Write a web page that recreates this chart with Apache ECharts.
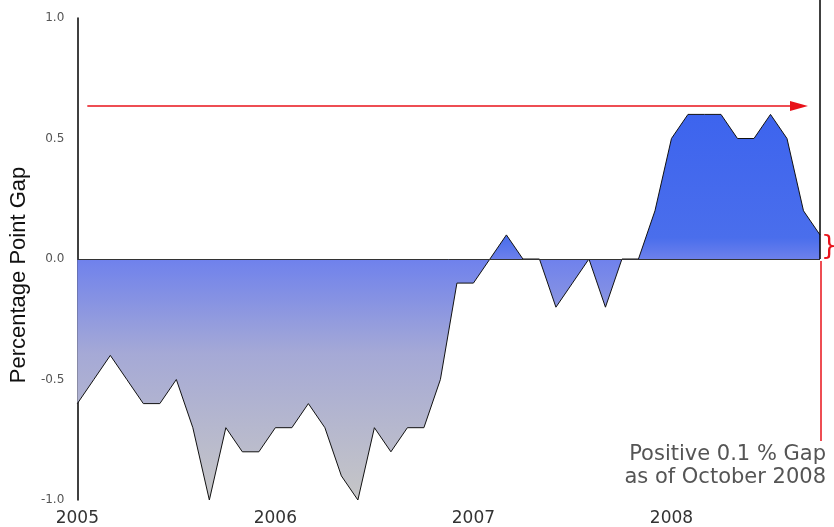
<!DOCTYPE html>
<html>
<head>
<meta charset="utf-8">
<title>Percentage Point Gap</title>
<script src="https://cdn.jsdelivr.net/npm/echarts@6/dist/echarts.min.js"></script>
<style>
  html, body { margin: 0; padding: 0; background: #fff; }
  #chart { width: 834px; height: 527px; }
</style>
</head>
<body>
<div id="chart"></div>
<script>
// monthly, Jan 2005 .. Oct 2008
const years = ['2005', '2006', '2007', '2008']
const monthNames = ['Jan', 'Feb', 'Mar', 'Apr', 'May', 'Jun', 'Jul', 'Aug', 'Sep', 'Oct', 'Nov', 'Dec']
const gap = [
  -0.6, -0.5, -0.4, -0.5, -0.6, -0.6, -0.5, -0.7, -1.0, -0.7, -0.8, -0.8,
  -0.7, -0.7, -0.6, -0.7, -0.9, -1.0, -0.7, -0.8, -0.7, -0.7, -0.5, -0.1,
  -0.1, 0.0, 0.1, 0.0, 0.0, -0.2, -0.1, 0.0, -0.2, 0.0, 0.0, 0.2,
  0.5, 0.6, 0.6, 0.6, 0.5, 0.5, 0.6, 0.5, 0.2, 0.1
]
const yTicks = [-1.0, -0.5, 0.0, 0.5, 1.0]
const arrowLevel = 0.635
const noteLines = ['Positive 0.1 % Gap', 'as of October 2008']

const months = []
years.forEach(y => monthNames.forEach(m => months.push(m + ' ' + y)))
months.length = gap.length

const chart = echarts.init(document.getElementById('chart'))

chart.setOption({
  backgroundColor: '#ffffff',
  animation: false,
  grid: {
    left: 77,
    right: 14,
    top: 18,
    bottom: 27,
  },
  xAxis: {
    type: 'category',
    boundaryGap: false,
    data: months,
    axisLine: { show: false },
    axisTick: { show: false },
    splitLine: { show: false },
    axisLabel: {
      interval: 11,
      margin: 10,
      color: '#333',
      fontFamily: 'DejaVu Sans',
      fontSize: 17,
      formatter: v => v.split(' ')[1],
    },
  },
  yAxis: {
    type: 'value',
    min: yTicks[0],
    max: yTicks[yTicks.length - 1],
    interval: 0.5,
    name: 'Percentage Point Gap',
    nameLocation: 'middle',
    nameGap: 46,
    nameTextStyle: {
      color: '#111',
      fontFamily: 'Liberation Sans, sans-serif',
      fontSize: 22,
      padding: [0, 0, 0, -32],
    },
    axisLine: { show: true, lineStyle: { color: '#000', width: 1.5 } },
    axisTick: { show: false },
    splitLine: { show: false },
    axisLabel: {
      margin: 13,
      color: '#555',
      fontFamily: 'DejaVu Sans',
      fontSize: 12,
      formatter: v => v.toFixed(1),
    },
  },
  series: [
    {
      type: 'line',
      data: gap,
      symbol: 'none',
      lineStyle: { color: '#111', width: 1 },
      areaStyle: {
        opacity: 1,
        color: new echarts.graphic.LinearGradient(0, 0, 0, 1, [
          { offset: 0, color: '#3d64ee' },
          { offset: 0.32, color: '#4a6eec' },
          { offset: 0.38, color: '#7082ec' },
          { offset: 0.62, color: '#a5a9d6' },
          { offset: 1, color: '#c6c6c6' },
        ]),
      },
      markLine: {
        silent: true,
        symbol: 'none',
        label: { show: false },
        lineStyle: { color: '#333', width: 1, type: 'solid' },
        data: [{ yAxis: 0 }],
      },
      z: 3,
    },
  ],
})

// annotations placed from the axis scales
function drawNotes() {
  const last = gap.length - 1
  const [xEnd, yZero] = chart.convertToPixel({ seriesIndex: 0 }, [last, 0])
  const [, yLast] = chart.convertToPixel({ seriesIndex: 0 }, [last, gap[last]])
  const [xStart, yArrow] = chart.convertToPixel({ seriesIndex: 0 }, [0, arrowLevel])
  const red = '#e8121a'
  const note = (text, y) => ({
    type: 'text',
    x: 826,
    y: y,
    style: {
      text: text,
      fill: '#555',
      font: '21px DejaVu Sans',
      align: 'right',
      verticalAlign: 'middle',
      textAlign: 'right',
      textVerticalAlign: 'middle',
    },
    z: 10,
  })

  chart.setOption({
    graphic: [
      {
        type: 'line',
        shape: { x1: xEnd, y1: 0, x2: xEnd, y2: yZero },
        style: { stroke: '#000', lineWidth: 1.5 },
        z: 10,
      },
      {
        type: 'line',
        shape: { x1: xEnd + 1, y1: yZero + 2, x2: xEnd + 1, y2: 441 },
        style: { stroke: red, lineWidth: 1.5 },
        z: 10,
      },
      {
        type: 'line',
        shape: { x1: xStart + 10, y1: yArrow, x2: xEnd - 20, y2: yArrow },
        style: { stroke: red, lineWidth: 1.5 },
        z: 10,
      },
      {
        type: 'polygon',
        shape: {
          points: [
            [xEnd - 30, yArrow - 5],
            [xEnd - 12, yArrow],
            [xEnd - 30, yArrow + 5],
          ],
        },
        style: { fill: red },
        z: 10,
      },
      {
        type: 'text',
        x: xEnd + 1,
        y: (yZero + yLast) / 2,
        style: {
          text: '}',
          fill: red,
          font: '26px DejaVu Sans',
          align: 'left',
          verticalAlign: 'middle',
          textAlign: 'left',
          textVerticalAlign: 'middle',
        },
        z: 10,
      },
      note(noteLines[0], 455),
      note(noteLines[1], 478),
    ],
  })
}

drawNotes()
</script>
</body>
</html>
